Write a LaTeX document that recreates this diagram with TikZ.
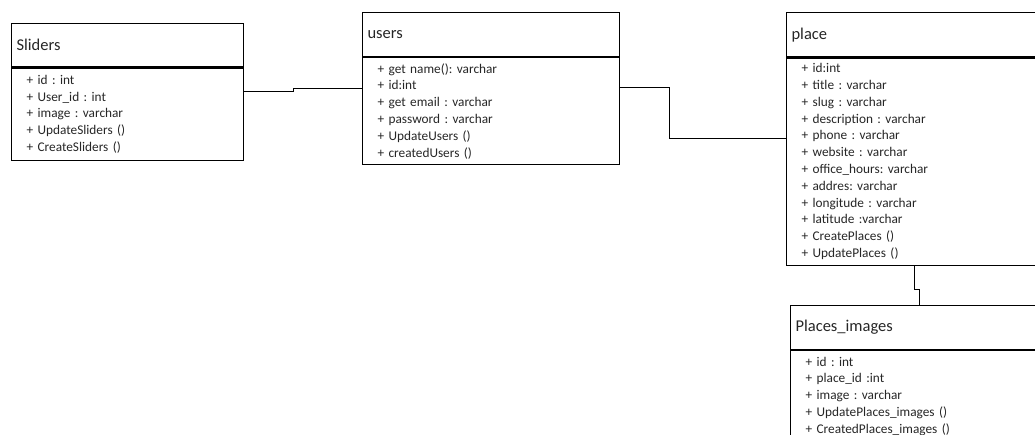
\documentclass[tikz,border=0pt]{standalone}
\usepackage{fontspec}
\setmainfont{Carlito}
\usetikzlibrary{positioning}
\frenchspacing

\tikzset{
  classtitle/.style={draw, line width=1.1pt, anchor=north west, inner xsep=5pt,
    text width=#1, align=left, font=\fontsize{16.5}{19}\selectfont, text=black!85},
  classattr/.style={draw, line width=1.1pt, inner xsep=15pt, inner ysep=2pt,
    text width=#1, align=left, font=\fontsize{13.3}{16.8}\selectfont, text=black!85},
  link/.style={line width=1pt}
}

\begin{document}
\begin{tikzpicture}[x=1pt,y=-1pt]
\useasboundingbox (0,0) rectangle (1035,435);
\clip (0,0) rectangle (1035,435);

% classes
\node[classtitle=222pt, minimum height=43.5pt] (sliders) at (11,23) {Sliders};
\node[classattr=202pt, minimum height=92pt, below=0pt of sliders] (sliders-attr)
  {+ id : int\\+ User\_id : int\\+ image : varchar\\+ UpdateSliders ()\\+ CreateSliders ()};

\node[classtitle=247pt, minimum height=44pt] (users) at (362,12) {users};
\node[classattr=227pt, minimum height=107pt, below=0pt of users] (users-attr)
  {+ get name(): varchar\\+ id:int\\+ get email : varchar\\+ password : varchar\\+ UpdateUsers ()\\+ createdUsers ()};

\node[classtitle=270pt, minimum height=44.5pt] (place) at (786,12) {place};
\node[classattr=250pt, minimum height=207pt, below=0pt of place] (place-attr)
  {+ id:int\\+ title : varchar\\+ slug : varchar\\+ description : varchar\\+ phone : varchar\\+ website : varchar\\+ office\_hours: varchar\\+ addres: varchar\\+ longitude : varchar\\+ latitude :varchar\\+ CreatePlaces ()\\+ UpdatePlaces ()};

\node[classtitle=270pt, minimum height=43.5pt] (placesimg) at (790,305) {Places\_images};
\node[classattr=250pt, minimum height=92pt, below=0pt of placesimg] (placesimg-attr)
  {+ id : int\\+ place\_id :int\\+ image : varchar\\+ UpdatePlaces\_images ()\\+ CreatedPlaces\_images ()};

% links
\draw[link] (sliders-attr.east |- 0,91.3) -- (293,91.3) -- (293,88.3) -- (users-attr.west |- 0,88.3);
\draw[link] (users-attr.east |- 0,88) -| (669,139) -- (place-attr.west |- 0,139);
\draw[link] (place-attr.south -| 914,0) -- (914,290) -- (919,290) -- (placesimg.north -| 919,0);
\end{tikzpicture}
\end{document}
